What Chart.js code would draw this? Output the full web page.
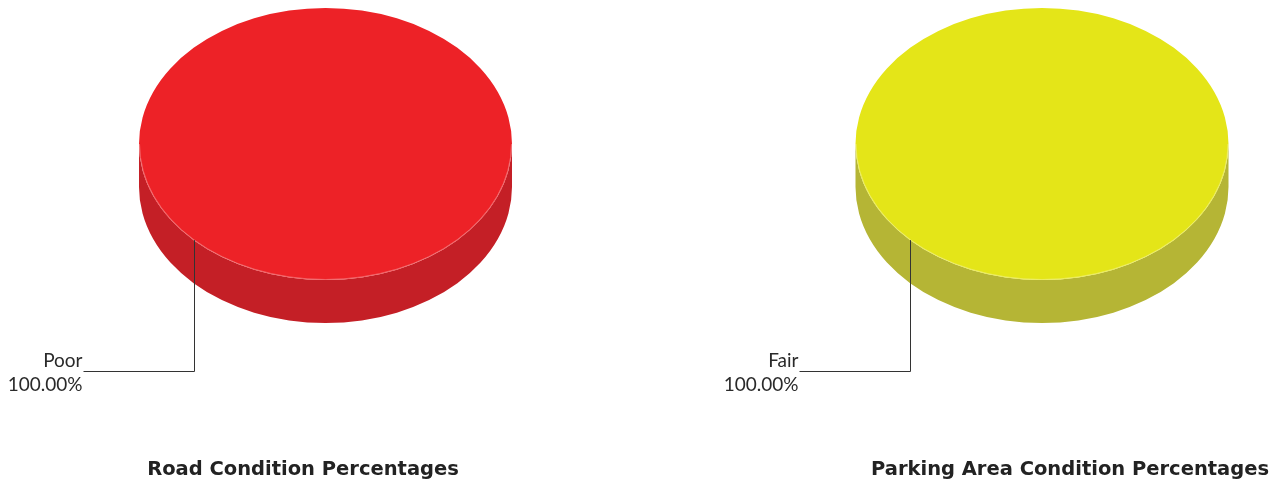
<!DOCTYPE html>
<html>
<head>
<meta charset="utf-8">
<script src="https://cdn.jsdelivr.net/npm/chart.js@4"></script>
<style>
  html, body { margin: 0; padding: 0; background: #fff; }
  body { width: 1276px; height: 482px; position: relative; overflow: hidden; font-family: Lato, "Open Sans", sans-serif; }
  .box { position: absolute; top: 0; width: 638px; height: 482px; }
  .title { position: absolute; top: 457px; font-family: "DejaVu Sans", sans-serif; font-weight: bold; font-size: 19.5px; color: #222; white-space: nowrap; transform: translateX(-50%); }
</style>
</head>
<body>

<div class="box" style="left:0"><canvas id="roadChart"></canvas></div>
<div class="box" style="left:638px"><canvas id="parkingChart"></canvas></div>
<div class="title" style="left:303px">Road Condition Percentages</div>
<div class="title" style="left:1070px">Parking Area Condition Percentages</div>

<script>
/* ================= DATA ================= */
const roadLabels = ["Poor"];
const roadValues = [100];

const parkingLabels = ["Fair"];
const parkingValues = [100];

/* ================= 3D LOOK ================= */
const TILT = 136 / 186.5;   // vertical squash of the pie top
const DEPTH = 43;           // thickness of the pie
const TOP_CY = 144;         // centre of the top ellipse on screen

// front wall (angles 0..PI face the viewer)
function drawWall(ctx, arc, color) {
  let a0 = Math.max(arc.startAngle, 0);
  let a1 = Math.min(arc.endAngle, Math.PI);
  if (arc.endAngle - arc.startAngle >= Math.PI * 2 - 1e-6) { a0 = 0; a1 = Math.PI; }
  if (a1 <= a0) return;
  const rx = arc.outerRadius, ry = arc.outerRadius * TILT;
  ctx.beginPath();
  ctx.ellipse(arc.x, TOP_CY, rx, ry, 0, a0, a1);
  ctx.ellipse(arc.x, TOP_CY + DEPTH, rx, ry, 0, a1, a0, true);
  ctx.closePath();
  ctx.fillStyle = color;
  ctx.fill();
}

const pie3d = {
  id: "pie3d",
  beforeDatasetsDraw(chart, args, opts) {
    const ctx = chart.ctx;
    const arcs = chart.getDatasetMeta(0).data;
    arcs.forEach((arc, i) => drawWall(ctx, arc, opts.sideColors[i]));

    // squash the real slices into the top ellipse
    const y0 = arcs.length ? arcs[0].y : 0;
    ctx.save();
    ctx.translate(0, TOP_CY);
    ctx.scale(1, TILT);
    ctx.translate(0, -y0);
  },
  afterDatasetsDraw(chart) {
    const ctx = chart.ctx;
    ctx.restore();

    const ds = chart.data.datasets[0];
    const total = ds.data.reduce((a, b) => a + b, 0);
    chart.getDatasetMeta(0).data.forEach((arc, i) => {
      const rx = arc.outerRadius, ry = arc.outerRadius * TILT;

      // faint light rim on the top edge
      ctx.save();
      ctx.strokeStyle = "rgba(255,255,255,0.3)";
      ctx.lineWidth = 1;
      ctx.beginPath();
      ctx.ellipse(arc.x, TOP_CY, rx - 0.5, ry - 0.5, 0, 0, Math.PI);
      ctx.stroke();
      ctx.restore();

      // leader line and label
      const mid = (arc.startAngle + arc.endAngle) / 2;
      const ax = Math.round(arc.x + rx * Math.cos(mid)) + 0.5;
      const ay = TOP_CY + ry * Math.sin(mid);
      const ly = 371.5;
      const lx = ax - 111;

      ctx.save();
      ctx.strokeStyle = "#333";
      ctx.lineWidth = 1;
      ctx.beginPath();
      ctx.moveTo(ax, ay);
      ctx.lineTo(ax, ly);
      ctx.lineTo(lx, ly);
      ctx.stroke();

      ctx.fillStyle = "#2a2a2a";
      ctx.font = "19px Lato, 'Open Sans', sans-serif";
      ctx.textAlign = "right";
      ctx.textBaseline = "alphabetic";
      ctx.fillText(chart.data.labels[i], lx - 1, 367);
      ctx.fillText((ds.data[i] / total * 100).toFixed(2) + "%", lx - 1, 391);
      ctx.restore();
    });
  }
};

/* ================= CHARTS ================= */
function makePie(id, labels, values, topColor, sideColor, padLeft, padRight) {
  return new Chart(document.getElementById(id), {
    type: "pie",
    data: {
      labels: labels,
      datasets: [{
        data: values,
        backgroundColor: [topColor],
        borderWidth: 0,
        rotation: 45
      }]
    },
    options: {
      responsive: true,
      maintainAspectRatio: false,
      animation: false,
      events: [],
      layout: { padding: { left: padLeft, right: padRight, top: 0, bottom: 0 } },
      plugins: {
        legend: { display: false },
        tooltip: { enabled: false },
        pie3d: { sideColors: [sideColor] }
      }
    },
    plugins: [pie3d]
  });
}

makePie("roadChart", roadLabels, roadValues, "#ed2227", "#c41f26", 139, 126);
makePie("parkingChart", parkingLabels, parkingValues, "#e4e518", "#b5b535", 217.5, 47.5);
</script>
</body>
</html>
